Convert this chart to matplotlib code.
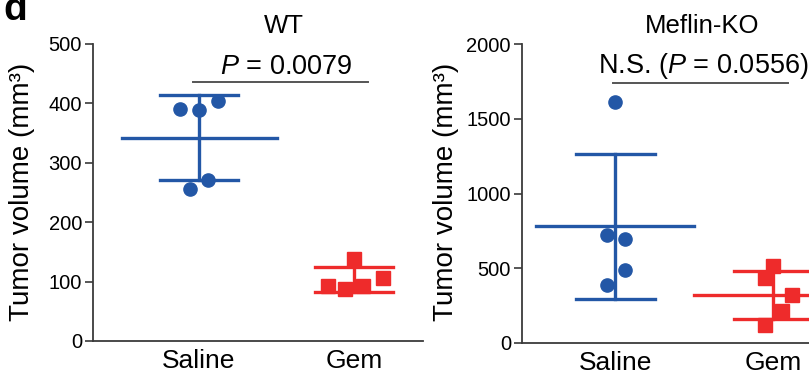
import numpy as np
import matplotlib.pyplot as plt

plt.rcParams['font.family'] = ['Liberation Sans', 'DejaVu Sans']
plt.rcParams['mathtext.fontset'] = 'custom'
plt.rcParams['mathtext.rm'] = 'Liberation Sans'
plt.rcParams['mathtext.it'] = 'Liberation Sans:italic'

groups = ['Saline', 'Gem']

# tumour volumes (mm3)
wt_saline = [391, 389, 404, 256, 271]
wt_gem = [92.6, 87.5, 138, 92.6, 106]
ko_saline = [1614, 723, 696, 489, 388]
ko_gem = [516, 435, 321, 214, 121]

# small horizontal offsets of the dots (in group units)
wt_saline_dx = [-0.12, 0.0, 0.12, -0.06, 0.06]
wt_gem_dx = [-0.17, -0.06, 0.0, 0.06, 0.19]
ko_saline_dx = [0.0, -0.05, 0.06, 0.06, -0.05]
ko_gem_dx = [0.0, -0.05, 0.12, 0.06, -0.05]

blue = '#2357a6'
red = '#ee2b2b'
grey = '#3a3a3a'


def dot_panel(ax, data, offsets, ylim, yticks, title, ptext, bar_y, text_y, title_y,
              show_gem_mean=True):
    colors = [blue, red]
    markers = ['o', 's']
    for i, (vals, dx) in enumerate(zip(data, offsets)):
        vals = np.array(vals)
        m = vals.mean()
        sd = vals.std(ddof=1)
        x = i + np.array(dx)
        ax.plot(x, vals, ls='none', marker=markers[i], ms=9.5, color=colors[i],
                mec=colors[i], clip_on=False, zorder=3)
        ax.plot([i, i], [m - sd, m + sd], color=colors[i], lw=2.4, zorder=2)
        for v in (m - sd, m + sd):
            ax.plot([i - 0.25, i + 0.25], [v, v], color=colors[i], lw=2.4, zorder=2)
        if i == 0 or show_gem_mean:
            ax.plot([i - 0.5, i + 0.5], [m, m], color=colors[i], lw=2.4, zorder=2)

    ax.set_ylim(*ylim)
    ax.set_yticks(yticks)
    ax.set_xticks([0, 1])
    ax.set_xticklabels(groups, fontsize=19)
    ax.spines['top'].set_visible(False)
    ax.spines['right'].set_visible(False)
    for s in ('left', 'bottom'):
        ax.spines[s].set_color(grey)
        ax.spines[s].set_linewidth(1.3)
    ax.tick_params(axis='y', labelsize=14.5, length=6, width=1.2, color=grey, pad=2)
    ax.tick_params(axis='x', length=0, pad=6)

    ax.plot(bar_y[0], [bar_y[1], bar_y[1]], color='#555555', lw=1.4, clip_on=False)
    ax.text(0.56, text_y, ptext, ha='center', va='baseline', fontsize=19.5, clip_on=False)
    ax.text(0.55, title_y, title, ha='center', va='baseline', fontsize=18.5, clip_on=False)


fig = plt.figure(figsize=(8.09, 3.72), dpi=100)
W, H = 809, 372

ax1 = fig.add_axes([93 / W, 31 / H, 330 / W, 297.3 / H])
ax1.set_xlim(-0.684, 1.445)
dot_panel(ax1, [wt_saline, wt_gem], [wt_saline_dx, wt_gem_dx], (0, 500),
          [0, 100, 200, 300, 400, 500], 'WT', r'$\it{P}$ = 0.0079',
          ([-0.04, 1.09], 435.5), 449.5, 518, show_gem_mean=False)

ax2 = fig.add_axes([522 / W, 29 / H, 330 / W, 298.7 / H])
ax2.set_xlim(-0.589, 1.5)
dot_panel(ax2, [ko_saline, ko_gem], [ko_saline_dx, ko_gem_dx], (0, 2000),
          [0, 500, 1000, 1500, 2000], 'Meflin-KO', r'N.S. ($\it{P}$ = 0.0556)',
          ([-0.013, 1.095], 1743), 1810, 2074)

for x in (22, 446):
    fig.text(x / W, 1 - 191.5 / H, 'Tumor volume (mm³)', rotation=90,
             ha='center', va='center', fontsize=20)

fig.text(3 / W, 1 - 20 / H, 'd', fontsize=28, fontweight='bold', va='baseline')

fig.savefig('out.png', dpi=100)
